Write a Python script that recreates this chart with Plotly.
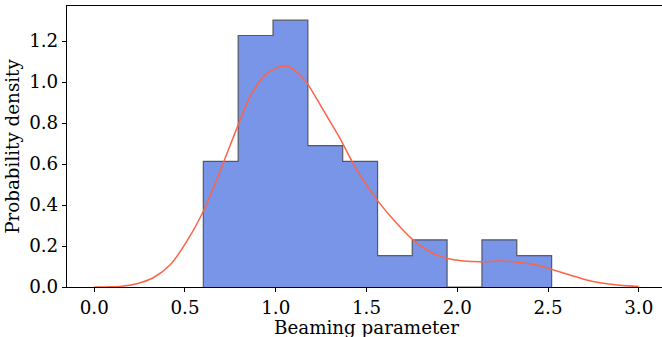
import plotly.graph_objects as go

# Histogram (density)
bin_edges = [0.601, 0.793, 0.985, 1.177, 1.369, 1.561, 1.752, 1.944, 2.136, 2.328, 2.520]
densities = [0.613, 1.227, 1.302, 0.690, 0.613, 0.153, 0.230, 0.0, 0.230, 0.153]

# KDE curve points
kde_x = [0.0, 0.07, 0.142, 0.234, 0.325, 0.417, 0.509, 0.60, 0.674, 0.735, 0.793, 0.858, 0.95,
         1.041, 1.078, 1.133, 1.176, 1.262, 1.354, 1.446, 1.559, 1.666, 1.758, 1.85,
         1.942, 2.033, 2.125, 2.235, 2.33, 2.437, 2.52, 2.621, 2.713, 2.804, 2.896, 3.0]
kde_y = [0.0, 0.0005, 0.003, 0.016, 0.045, 0.107, 0.221, 0.367, 0.522, 0.66, 0.790, 0.928, 1.042,
         1.078, 1.072, 1.034, 0.990, 0.863, 0.725, 0.571, 0.424, 0.311, 0.229, 0.172,
         0.140, 0.127, 0.123, 0.127, 0.121, 0.107, 0.086, 0.059, 0.034, 0.018, 0.008, 0.002]

x_ticks = [0.0, 0.5, 1.0, 1.5, 2.0, 2.5, 3.0]
y_ticks = [0.0, 0.2, 0.4, 0.6, 0.8, 1.0, 1.2]
x_title = "Beaming parameter"
y_title = "Probability density"

step_x = [bin_edges[0]] + bin_edges[:-1] + [bin_edges[-1], bin_edges[-1]]
step_y = [0] + densities + [densities[-1], 0]

font = dict(family="DejaVu Serif", size=18.3, color="black")

fig = go.Figure()
fig.add_trace(go.Scatter(
    x=step_x, y=step_y, mode="lines", line=dict(shape="hv", color="rgba(70,70,70,0.85)", width=1.2),
    fill="tozeroy", fillcolor="#7895e8", hoverinfo="skip", showlegend=False))
fig.add_trace(go.Scatter(
    x=kde_x, y=kde_y, mode="lines", line=dict(shape="spline", smoothing=0.8, color="#ff6347", width=1.5),
    showlegend=False))

fig.update_layout(
    width=662, height=337,
    margin=dict(l=67, r=0, t=6, b=50),
    plot_bgcolor="white", paper_bgcolor="white",
    font=font,
)
fig.add_annotation(text=x_title, x=1.5, xref="x", y=-0.145, yref="paper",
                   xanchor="center", yanchor="middle", showarrow=False, font=font)
fig.update_xaxes(
    range=[-0.15, 3.128], tickvals=x_ticks, ticktext=[f"{v:.1f}" for v in x_ticks],
    showline=True, linecolor="black", linewidth=1.2, mirror=True, automargin=False,
    ticks="outside", ticklen=4, tickcolor="black", showgrid=False, zeroline=False,
    tickfont=font)
fig.update_yaxes(
    range=[0, 1.371], tickvals=y_ticks, ticktext=[f"{v:.1f}" for v in y_ticks],
    showline=True, linecolor="black", linewidth=1.2, mirror=False, automargin=False,
    ticks="outside", ticklen=4, tickcolor="black", showgrid=False, zeroline=False,
    title=dict(text=y_title, font=font, standoff=4), tickfont=font)

fig.write_html("out.html")
